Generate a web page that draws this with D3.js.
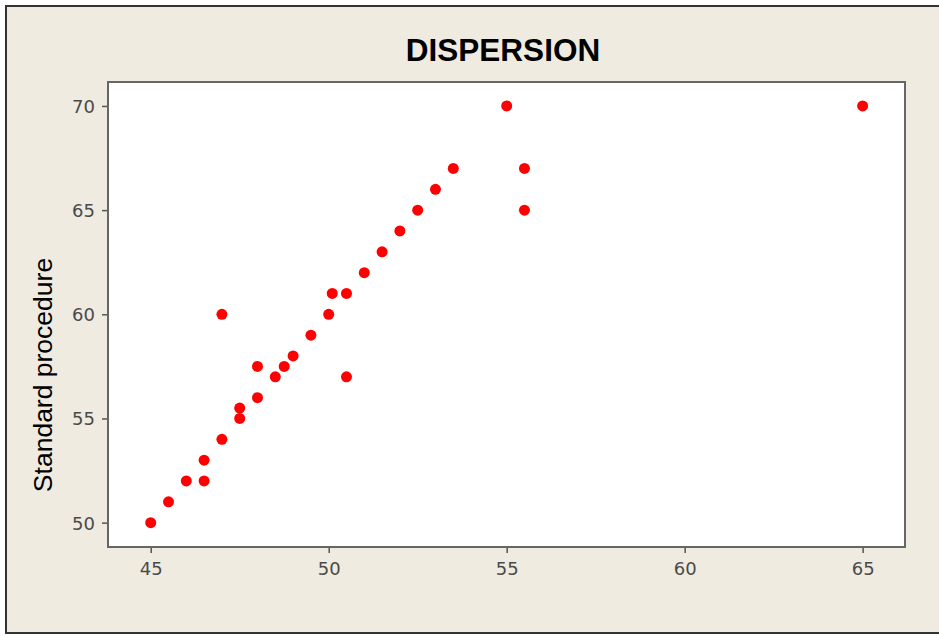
<!DOCTYPE html>
<html>
<head>
<meta charset="utf-8">
<script src="https://cdn.jsdelivr.net/npm/d3@7"></script>
<style>
  html, body { margin: 0; padding: 0; background: #fff; }
  svg { display: block; font-family: "Liberation Sans", Arial, sans-serif; }
</style>
</head>
<body>
<div id="chart"></div>
<script>
// dispersion data
const xValues = [45, 45.5, 46, 46.5, 46.5, 47, 47, 47.5, 47.5, 48, 48, 48.5, 48.75, 49, 49.5, 50, 50.1, 50.5, 50.5, 51, 51.5, 52, 52.5, 53, 53.5, 55, 55.5, 55.5, 65];
const yValues = [50, 51, 52, 52, 53, 54, 60, 55, 55.5, 56, 57.5, 57, 57.5, 58, 59, 60, 61, 61, 57, 62, 63, 64, 65, 66, 67, 70, 67, 65, 70];
const xTicks = [45, 50, 55, 60, 65];
const yTicks = [50, 55, 60, 65, 70];
const titleText = 'DISPERSION';
const yLabel = 'Standard procedure';

const width = 939, height = 635;
const plot = { left: 108, top: 82, right: 905, bottom: 547 };

const svg = d3.select('#chart').append('svg')
  .attr('width', width)
  .attr('height', height);

// beige panel with dark border
svg.append('rect')
  .attr('x', 6).attr('y', 6)
  .attr('width', width).attr('height', 627)
  .attr('fill', '#efebe1')
  .attr('stroke', '#333')
  .attr('stroke-width', 2);

const x = d3.scaleLinear().domain([43.8, 66.19]).range([plot.left, plot.right]);
const y = d3.scaleLinear().domain([48.83, 71.15]).range([plot.bottom, plot.top]);

// plot area
svg.append('rect')
  .attr('x', plot.left).attr('y', plot.top)
  .attr('width', plot.right - plot.left)
  .attr('height', plot.bottom - plot.top)
  .attr('fill', '#fff')
  .attr('stroke', '#666')
  .attr('stroke-width', 2);

const xAxis = svg.append('g')
  .attr('transform', `translate(0,${plot.bottom + 1})`)
  .call(d3.axisBottom(x).tickValues(xTicks).tickSize(5).tickSizeOuter(0).tickFormat(d3.format('d')));
const yAxis = svg.append('g')
  .attr('transform', `translate(${plot.left - 1},0)`)
  .call(d3.axisLeft(y).tickValues(yTicks).tickSize(5).tickSizeOuter(0).tickFormat(d3.format('d')));

[xAxis, yAxis].forEach(g => {
  g.select('.domain').remove();
  g.selectAll('.tick line').attr('stroke', '#555').attr('stroke-width', 1.5);
  g.selectAll('.tick text')
    .attr('fill', '#4a4a4a')
    .attr('font-size', 18)
    .attr('font-family', '"DejaVu Sans", sans-serif');
});
xAxis.selectAll('.tick text').attr('y', 27).attr('dy', null);
yAxis.selectAll('.tick text').attr('x', -12).attr('dy', '0.36em');

// points
svg.append('g')
  .selectAll('circle')
  .data(xValues.map((v, i) => [v, yValues[i]]))
  .enter().append('circle')
  .attr('cx', d => x(d[0]))
  .attr('cy', d => y(d[1]))
  .attr('r', 5.5)
  .attr('fill', '#ff0000');

// title
svg.append('text')
  .attr('x', 503).attr('y', 61)
  .attr('text-anchor', 'middle')
  .attr('font-size', 31.5)
  .attr('font-weight', 700)
  .attr('fill', '#000')
  .text(titleText);

// y label
svg.append('text')
  .attr('transform', 'translate(52,375) rotate(-90)')
  .attr('text-anchor', 'middle')
  .attr('font-size', 26.5)
  .attr('fill', '#000')
  .text(yLabel);
</script>
</body>
</html>
